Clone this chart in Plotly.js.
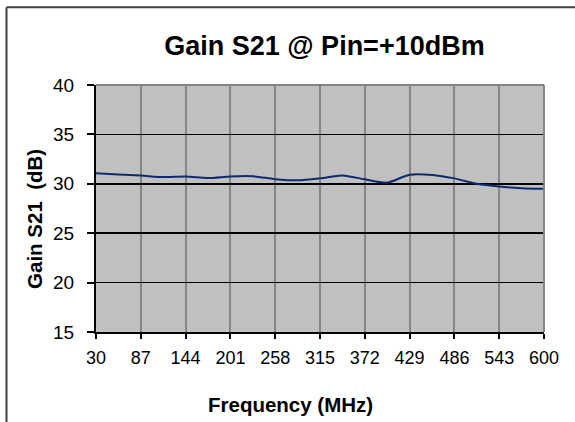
<!DOCTYPE html>
<html>
<head>
<meta charset="utf-8">
<script src="https://cdn.plot.ly/plotly-3.0.1.min.js"></script>
<style>html,body{margin:0;padding:0;background:#fff;}#chart{width:575px;height:422px;}</style>
</head>
<body>
<div id="chart"></div>
<script>
// Frequency (MHz)
const freqMHz = [30, 58.5, 87, 115.5, 144, 172.5, 201, 229.5, 258, 286.5, 315, 343.5, 372, 400.5, 429, 457.5, 486, 514.5, 543, 571.5, 600];
// Gain S21 (dB)
const gainDb = [31.08, 30.95, 30.84, 30.68, 30.74, 30.58, 30.74, 30.76, 30.47, 30.35, 30.55, 30.85, 30.45, 30.12, 30.92, 30.9, 30.55, 30.0, 29.72, 29.56, 29.49];
// Axis ticks
const xTicks = [30, 87, 144, 201, 258, 315, 372, 429, 486, 543, 600];
const yTicks = [15, 20, 25, 30, 35, 40];

const font = 'Arial, "Liberation Sans", sans-serif';

const trace = {
  x: freqMHz, y: gainDb, type: 'scatter', mode: 'lines',
  line: {color: '#0d2a6e', width: 2, shape: 'spline', smoothing: 0.8},
  hoverinfo: 'x+y', showlegend: false
};

const layout = {
  width: 575, height: 422,
  margin: {l: 96, r: 31, t: 84.5, b: 89.5},
  paper_bgcolor: '#ffffff',
  plot_bgcolor: '#c0c0c0',
  font: {family: font, color: '#000', size: 18},
  title: {text: '<b>Gain S21 @ Pin=+10dBm</b>', font: {size: 27, family: font, color: '#000'},
          xref: 'paper', x: 0.51, xanchor: 'center', yref: 'container', y: 1 - 46/422, yanchor: 'middle'},
  xaxis: {
    range: [30, 600], tickvals: xTicks, ticktext: xTicks.map(String),
    showgrid: true, gridcolor: '#858585', gridwidth: 2,
    showline: true, linecolor: '#000', linewidth: 2,
    ticks: 'outside', ticklen: 5, tickwidth: 2, tickcolor: '#000',
    zeroline: false, tickfont: {size: 18, family: font}, ticklabelstandoff: 3
  },
  yaxis: {
    range: [15, 40], tickvals: yTicks,
    showgrid: true, gridcolor: '#000', gridwidth: 1.5,
    showline: true, linecolor: '#000', linewidth: 2,
    ticks: 'outside', ticklen: 7, tickwidth: 2, tickcolor: '#000',
    zeroline: false, tickfont: {size: 19, family: font}, ticklabelstandoff: 9
  },
  annotations: [
    {text: '<b>Frequency (MHz)</b>', xref: 'paper', yref: 'paper', x: (290 - 96) / 448, y: (332.5 - 405) / 248,
     xanchor: 'center', yanchor: 'middle', showarrow: false, font: {size: 20.5, family: font, color: '#000'}},
    {text: '<b>Gain S21  (dB)</b>', xref: 'paper', yref: 'paper', x: (35 - 96) / 448, y: (332.5 - 219) / 248,
     xanchor: 'center', yanchor: 'middle', textangle: -90, showarrow: false, font: {size: 20.5, family: font, color: '#000'}}
  ],
  shapes: [
    {type: 'line', xref: 'paper', yref: 'paper', x0: 0, x1: 1, y0: 1, y1: 1, line: {color: '#858585', width: 2}, layer: 'above'},
    {type: 'line', xref: 'paper', yref: 'paper', x0: 1, x1: 1, y0: 0, y1: 1, line: {color: '#858585', width: 2}, layer: 'above'},
    {type: 'line', xref: 'paper', yref: 'paper', x0: -0.1998, x1: 1.2, y0: 1.3145, y1: 1.3145, line: {color: '#404040', width: 2}},
    {type: 'line', xref: 'paper', yref: 'paper', x0: -0.1998, x1: -0.1998, y0: -0.5, y1: 1.3145, line: {color: '#404040', width: 2}}
  ]
};

Plotly.newPlot('chart', [trace], layout, {displayModeBar: false, staticPlot: true});
</script>
</body>
</html>
